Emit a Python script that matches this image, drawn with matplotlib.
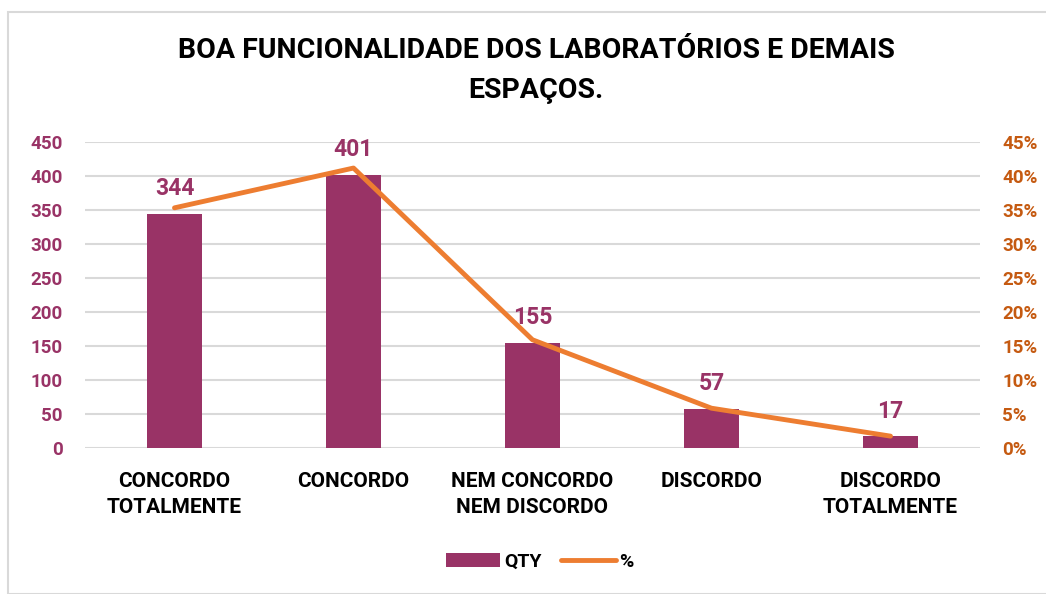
import matplotlib
matplotlib.use("Agg")
import matplotlib.pyplot as plt
import matplotlib.ticker as ticker
from matplotlib.patches import Rectangle

categories = ["CONCORDO\nTOTALMENTE", "CONCORDO", "NEM CONCORDO\nNEM DISCORDO",
              "DISCORDO", "DISCORDO\nTOTALMENTE"]
qty = [344, 401, 155, 57, 17]
pct = [v / sum(qty) for v in qty]

BAR = "#993366"
LINE = "#ED7D31"
PCT_TXT = "#C55A11"
GRID = "#D9D9D9"

plt.rcParams["font.family"] = ["Roboto", "DejaVu Sans"]
plt.rcParams["font.weight"] = "bold"

fig = plt.figure(figsize=(10.46, 5.94), dpi=100)
fig.patches.append(Rectangle((8 / 1046, 0), 1.0, 1 - 12 / 594, transform=fig.transFigure,
                             fill=False, edgecolor=GRID, linewidth=1.5))

ax = fig.add_axes([85 / 1046, 1 - 448 / 594, 895 / 1046, 306 / 594])
x = list(range(len(categories)))
ax.bar(x, qty, width=0.31, color=BAR, zorder=2, label="QTY")
ax.set_xlim(-0.5, len(categories) - 0.5)
ax.set_ylim(0, 450)
ax.yaxis.set_major_locator(ticker.MultipleLocator(50))
ax.grid(axis="y", color=GRID, linewidth=1.5, zorder=0)
for s in ax.spines.values():
    s.set_visible(False)
ax.tick_params(length=0)
ax.tick_params(axis="y", labelcolor=BAR, labelsize=13.5, pad=16)
ax.set_xticks(x)
ax.set_xticklabels(categories, fontsize=15, color="black", linespacing=1.5,
                   fontweight="bold")
ax.tick_params(axis="x", pad=17)
for lbl in ax.get_yticklabels():
    lbl.set_fontweight("bold")

for xi, v in zip(x, qty):
    ax.annotate(str(v), (xi, v), xytext=(0, 10), textcoords="offset points",
                ha="center", va="bottom", color=BAR, fontsize=16.5, fontweight="bold")

ax2 = ax.twinx()
ax2.plot(x, pct, color=LINE, linewidth=3.5, solid_capstyle="round", label="%", zorder=3)
ax2.set_ylim(0, 0.45)
ax2.yaxis.set_major_locator(ticker.MultipleLocator(0.05))
ax2.yaxis.set_major_formatter(ticker.FuncFormatter(lambda v, _: f"{v * 100:.0f}%"))
for s in ax2.spines.values():
    s.set_visible(False)
ax2.tick_params(length=0, labelcolor=PCT_TXT, labelsize=13.5, pad=16)
for lbl in ax2.get_yticklabels():
    lbl.set_fontweight("bold")

fig.text(536 / 1046, 1 - 51 / 594, "BOA FUNCIONALIDADE DOS LABORATÓRIOS E DEMAIS",
         ha="center", va="center", fontsize=20.5, fontweight="bold")
fig.text(536 / 1046, 1 - 91 / 594, "ESPAÇOS.",
         ha="center", va="center", fontsize=20.5, fontweight="bold")

h1, l1 = ax.get_legend_handles_labels()
h2, l2 = ax2.get_legend_handles_labels()
fig.legend(h1 + h2, l1 + l2, loc="center", bbox_to_anchor=(540 / 1046, 1 - 562 / 594),
           ncol=2, frameon=False, prop={"size": 14, "weight": "bold"},
           handlelength=2.8, columnspacing=1.0, handletextpad=0.2)

fig.savefig("out.png", dpi=100)
